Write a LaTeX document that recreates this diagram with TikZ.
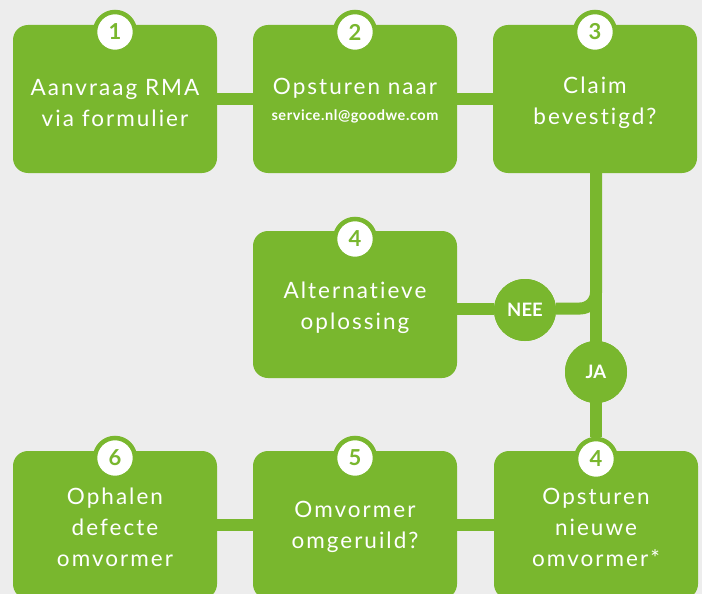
\documentclass[tikz,border=0pt]{standalone}
\usepackage{fontspec}
\setmainfont{Lato}
\newfontfamily\boxfont{Lato}[LetterSpace=9,Ligatures=NoCommon]
\newfontfamily\mailfont{Lato}[LetterSpace=4]
\definecolor{gw}{RGB}{121,183,46}
\definecolor{bg}{RGB}{237,237,237}
\begin{document}
\begin{tikzpicture}[x=1pt,y=-1pt,
  box/.style={fill=gw,rounded corners=15pt,minimum width=204pt,minimum height=148pt,inner sep=0pt},
  txt/.style={text=white,align=center,font=\boxfont\fontsize{22.5}{31}\selectfont},
  num/.style={circle,fill=white,draw=gw,line width=4.5pt,minimum size=40pt,inner sep=0pt,text=gw,font=\fontsize{22}{22}\selectfont\bfseries},
  lbl/.style={circle,fill=gw,minimum size=62pt,inner sep=0pt,text=white,font=\fontsize{18.5}{18.5}\selectfont\bfseries},
  conn/.style={draw=gw,line width=12pt}]
\useasboundingbox (0,0) rectangle (702,594);
\clip (0,0) rectangle (702,594);
\fill[bg] (0,0) rectangle (702,594);
% boxes
\node[box] (b1) at (115,99) {};
\node[box] (b2) at (355,99) {};
\node[box] (b3) at (595,99) {};
\node[box,minimum height=147pt] (b4) at (355,304.5) {};
\node[box] (b6) at (115,525) {};
\node[box] (b5) at (355,525) {};
\node[box] (b7) at (596,525) {};
% number circles
\node[num] (n1) at (115,32) {1};
\node[num] (n2) at (355,32) {2};
\node[num] (n3) at (595,32) {3};
\node[num] (n4) at (355,239) {4};
\node[num] (n6) at (115,458) {6};
\node[num] (n5) at (355,458) {5};
\node[num] (n7) at (596,459) {4};
% connectors
\draw[conn] (b1.east) -- (b2.west);
\draw[conn] (b2.east) -- (b3.west);
\draw[conn] (b6.east) -- (b5.west);
\draw[conn] (b5.east) -- (b7.west);
\coordinate (vtop) at (596,173);
\draw[conn] (vtop) -- (n7.north);
\node[lbl] (nee) at (525,310) {NEE};
\node[lbl] (ja) at (596,372) {JA};
\draw[conn] (b4.east |- 0,308.5) -- (nee.west |- 0,308.5);
\draw[conn,rounded corners=16pt] (nee.east |- 0,308.5) -| (vtop);
\node[lbl] at (nee) {NEE};
\node[lbl] at (ja) {JA};
% texts
\node[txt] at (115,103) {Aanvraag RMA\\via formulier};
\node[txt,anchor=base] at (355,95) {Opsturen naar};
\node[text=white,anchor=base,font=\mailfont\fontsize{14.5}{14.5}\selectfont\bfseries] at (355,121) {service.nl@goodwe.com};
\node[txt] at (595,103) {Claim\\bevestigd?};
\node[txt] at (355,308) {Alternatieve\\oplossing};
\node[txt] at (115,527) {Ophalen\\defecte\\omvormer};
\node[txt] at (355,527) {Omvormer\\omgeruild?};
\node[txt] at (596,527) {Opsturen\\nieuwe\\omvormer*};
\end{tikzpicture}
\end{document}
